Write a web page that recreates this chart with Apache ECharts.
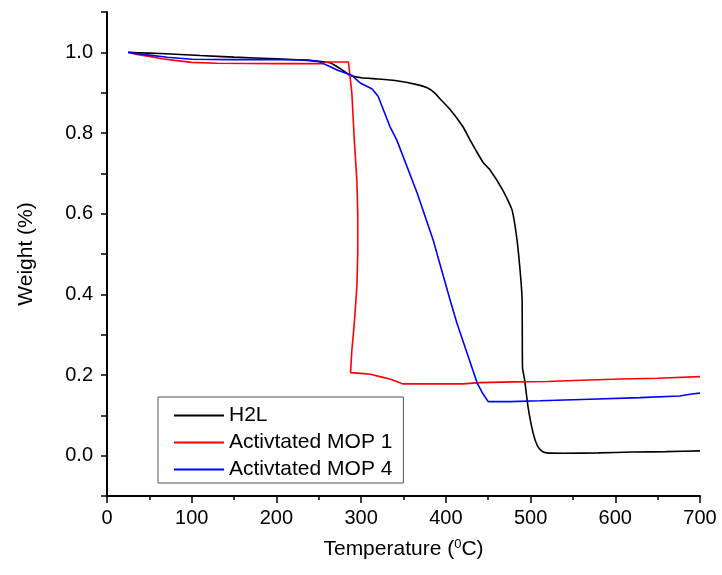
<!DOCTYPE html>
<html>
<head>
<meta charset="utf-8">
<script src="https://cdn.jsdelivr.net/npm/echarts@6/dist/echarts.min.js"></script>
<style>
html,body{margin:0;padding:0;background:#fff;}
#chart{width:722px;height:575px;}
</style>
</head>
<body>
<div id="chart"></div>
<script>
// ---- data (temperature in °C, weight fraction) ----
var seriesNames = ['H2L', 'Activtated MOP 1', 'Activtated MOP 4'];

var h2lT = [25, 50, 75, 110, 150, 200, 237, 250, 263, 275, 287, 300, 319, 340, 366, 378, 387, 393, 405, 420, 428, 436, 444, 452, 467, 478, 484, 488, 490, 490.5, 493, 497, 503, 508, 513, 519, 540, 580, 620, 660, 700];
var h2lW = [1.0, 0.998, 0.996, 0.992, 0.988, 0.984, 0.980, 0.978, 0.974, 0.960, 0.943, 0.937, 0.934, 0.930, 0.920, 0.912, 0.899, 0.885, 0.858, 0.816, 0.785, 0.755, 0.727, 0.709, 0.659, 0.610, 0.535, 0.45, 0.387, 0.218, 0.188, 0.121, 0.056, 0.025, 0.012, 0.007, 0.006, 0.007, 0.009, 0.010, 0.012];

var mop1T = [25, 35, 50, 65, 80, 100, 130, 200, 255, 258, 285, 287, 289, 292, 295, 296, 296, 295, 292, 289, 287.5, 300, 311, 322, 334, 342, 349, 380, 420, 440, 480, 520, 560, 606, 650, 700];
var mop1W = [1.0, 0.995, 0.990, 0.984, 0.980, 0.975, 0.973, 0.972, 0.972, 0.976, 0.976, 0.972, 0.90, 0.78, 0.68, 0.60, 0.50, 0.42, 0.33, 0.26, 0.206, 0.204, 0.202, 0.196, 0.190, 0.184, 0.178, 0.178, 0.178, 0.181, 0.183, 0.184, 0.187, 0.190, 0.192, 0.196];

var mop4T = [25, 31, 50, 71, 100, 150, 200, 236, 250, 263, 273, 289, 299, 313, 320, 334, 342, 366, 385, 393, 405, 413, 437, 443, 450, 476, 511, 570, 629, 676, 690, 700];
var mop4W = [1.0, 0.998, 0.993, 0.988, 0.983, 0.982, 0.982, 0.981, 0.977, 0.965, 0.955, 0.943, 0.924, 0.909, 0.891, 0.816, 0.783, 0.652, 0.535, 0.475, 0.386, 0.329, 0.180, 0.156, 0.134, 0.134, 0.136, 0.140, 0.144, 0.148, 0.153, 0.155];

var xTicks = [0, 100, 200, 300, 400, 500, 600, 700];
var yTickLabels = ['0.0', '0.2', '0.4', '0.6', '0.8', '1.0'];

function pairs(t, w) { return t.map(function (v, i) { return [v, w[i]]; }); }

var colors = ['#000000', '#ff0000', '#0000ff'];
var font = '"Liberation Sans", Arial, sans-serif';

var chart = echarts.init(document.getElementById('chart'), null, {renderer: 'canvas'});
chart.setOption({
  animation: false,
  backgroundColor: '#ffffff',
  grid: {left: 107, right: 22, top: 12, bottom: 79, containLabel: false},
  legend: {
    orient: 'vertical',
    left: 158, top: 397,
    data: seriesNames,
    icon: 'rect',
    itemWidth: 50, itemHeight: 2,
    itemGap: 6,
    padding: [8, 11, 3, 16],
    borderColor: '#555555', borderWidth: 1,
    textStyle: {fontFamily: font, fontSize: 21, color: '#000', lineHeight: 21}
  },
  xAxis: {
    type: 'value', min: 0, max: 700, interval: 100,
    name: '{a|Temperature (}{s|0}{a|C)}',
    nameLocation: 'middle', nameGap: 42,
    nameTextStyle: {
      rich: {
        a: {fontFamily: font, fontSize: 21, color: '#000'},
        s: {fontFamily: font, fontSize: 13, color: '#000', verticalAlign: 'top', padding: [0, 0, 10, 0]}
      }
    },
    axisLine: {show: true, onZero: false, lineStyle: {color: '#000', width: 2}},
    axisTick: {show: true, inside: false, length: 7, lineStyle: {color: '#000', width: 1.5}},
    minorTick: {show: true, splitNumber: 2, length: 4, lineStyle: {color: '#000', width: 1.5}},
    axisLabel: {fontFamily: font, fontSize: 20, color: '#000', margin: 12,
      formatter: function (v) { return xTicks.indexOf(Math.round(v)) >= 0 ? String(Math.round(v)) : ''; }},
    splitLine: {show: false}
  },
  yAxis: {
    type: 'value', min: -0.1, max: 1.1, interval: 0.1,
    name: 'Weight (%)',
    nameLocation: 'middle', nameGap: 70,
    nameTextStyle: {fontFamily: font, fontSize: 21, color: '#000'},
    axisLine: {show: true, onZero: false, lineStyle: {color: '#000', width: 2}},
    axisTick: {show: true, inside: false, length: 6, lineStyle: {color: '#000', width: 1.5}},
    axisLabel: {fontFamily: font, fontSize: 20, color: '#000', margin: 14,
      formatter: function (v) {
        var k = Math.round(v * 10);
        if (k < 0 || k % 2 !== 0) return '';
        var s = (k / 10).toFixed(1);
        return yTickLabels.indexOf(s) >= 0 ? s : '';
      }},
    splitLine: {show: false}
  },
  series: [
    {name: seriesNames[0], type: 'line', data: pairs(h2lT, h2lW), showSymbol: false, symbol: 'none', smooth: 0.15,
     lineStyle: {color: colors[0], width: 1.6}, itemStyle: {color: colors[0]}},
    {name: seriesNames[1], type: 'line', data: pairs(mop1T, mop1W), showSymbol: false, symbol: 'none',
     lineStyle: {color: colors[1], width: 1.6}, itemStyle: {color: colors[1]}},
    {name: seriesNames[2], type: 'line', data: pairs(mop4T, mop4W), showSymbol: false, symbol: 'none',
     lineStyle: {color: colors[2], width: 1.6}, itemStyle: {color: colors[2]}}
  ]
});
</script>
</body>
</html>
